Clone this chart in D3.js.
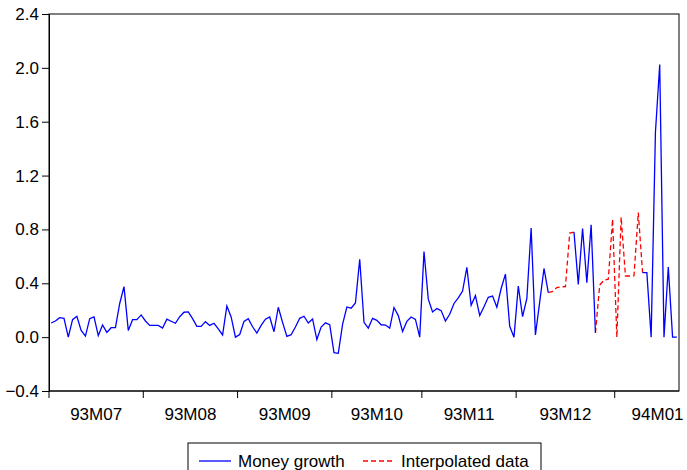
<!DOCTYPE html>
<html>
<head>
<meta charset="utf-8">
<script src="https://cdn.jsdelivr.net/npm/d3@7"></script>
<style>
  body { margin: 0; background: #fff; }
  text { font-family: "Liberation Sans", Arial, sans-serif; fill: #000; }
</style>
</head>
<body>
<script>
/*global d3*/

// month labels and number of daily observations in each month
var months = ["93M07", "93M08", "93M09", "93M10", "93M11", "93M12", "94M01"];
var monthDays = [22, 22, 22, 21, 22, 23, 15];

var yTicks = [-0.4, 0.0, 0.4, 0.8, 1.2, 1.6, 2.0, 2.4];

// daily money growth, null = missing
var moneyGrowth = [
  0.105, 0.12, 0.145, 0.14, 0.0, 0.13, 0.155, 0.05, 0.008, 0.137, 0.15, 0.012, 0.09, 0.035, 0.07, 0.07, 0.25, 0.375, 0.05, 0.13, 0.13, 0.165,
  0.12, 0.087, 0.087, 0.087, 0.067, 0.133, 0.118, 0.103, 0.152, 0.185, 0.187, 0.137, 0.08, 0.08, 0.115, 0.087, 0.103, 0.062, 0.016, 0.231, 0.15, 0.0,
  0.02, 0.117, 0.137, 0.077, 0.03, 0.087, 0.133, 0.15, 0.04, 0.222, 0.11, 0.005, 0.018, 0.075, 0.14, 0.155, 0.105, 0.135, -0.018, 0.075, 0.106, 0.093,
  -0.115, -0.12, 0.095, 0.224, 0.215, 0.254, 0.578, 0.11, 0.067, 0.14, 0.125, 0.092, 0.09, 0.067, 0.22, 0.16, 0.042, 0.117, 0.15, 0.132, 0.0,
  0.636, 0.282, 0.187, 0.212, 0.197, 0.12, 0.17, 0.25, 0.292, 0.342, 0.518, 0.237, 0.308, 0.16, 0.226, 0.296, 0.305, 0.222, 0.361, 0.468, 0.081, 0.0,
  0.38, 0.153, 0.287, 0.81, 0.016, 0.262, 0.51, 0.33, null, null, null, null, null, 0.78, 0.392, 0.807, 0.405, 0.835, 0.032, null, null, null, null,
  null, null, null, null, null, null, 0.479, 0.479, 0.0, 1.52, 2.025, 0.0, 0.52, 0.0, 0.0
];

// interpolated values filling the gaps
var interpolated = [
  null, null, null, null, null, null, null, null, null, null, null, null, null, null, null, null, null, null, null, null, null, null,
  null, null, null, null, null, null, null, null, null, null, null, null, null, null, null, null, null, null, null, null, null, null,
  null, null, null, null, null, null, null, null, null, null, null, null, null, null, null, null, null, null, null, null, null, null,
  null, null, null, null, null, null, null, null, null, null, null, null, null, null, null, null, null, null, null, null, null,
  null, null, null, null, null, null, null, null, null, null, null, null, null, null, null, null, null, null, null, null, null, null,
  null, null, null, null, null, null, null, 0.33, 0.34, 0.368, 0.374, 0.375, 0.773, 0.78, null, null, null, null, 0.032, 0.387, 0.424, 0.43, 0.876,
  0.0, 0.892, 0.454, 0.454, 0.456, 0.925, 0.479, null, null, null, null, null, null, null, null
];

var width = 687, height = 470;
var plotLeft = 49, plotRight = 679, plotTop = 14, plotBottom = 391;
var fontSize = 17;

var svg = d3.select("body").append("svg")
    .attr("width", width)
    .attr("height", height);

var n = moneyGrowth.length;
var x = d3.scaleLinear().domain([-0.5, n - 0.5]).range([plotLeft, plotRight]);
var y = d3.scaleLinear().domain([-0.4, 2.4]).range([plotBottom, plotTop]);

// frame
svg.append("rect")
    .attr("x", plotLeft).attr("y", plotTop)
    .attr("width", plotRight - plotLeft).attr("height", plotBottom - plotTop)
    .attr("fill", "none").attr("stroke", "#000").attr("stroke-width", 1);

// y axis
var yAxis = d3.axisLeft(y).tickValues(yTicks).tickSize(7).tickPadding(3)
    .tickFormat(d3.format(".1f"));
var gy = svg.append("g").attr("transform", "translate(" + plotLeft + ",0)").call(yAxis);
gy.select(".domain").attr("stroke", "#000");
gy.selectAll("text").attr("font-size", fontSize).attr("font-family", "Liberation Sans, Arial, sans-serif");

// x axis: ticks at month boundaries, labels centred in each month
var bounds = [0];
monthDays.forEach(function(d, i) { bounds.push(bounds[i] + d); });
var tickPos = bounds.slice(0, months.length).map(function(b) { return b - 0.5; });

var gx = svg.append("g").attr("transform", "translate(0," + plotBottom + ")");
gx.append("line").attr("x1", plotLeft).attr("x2", plotRight).attr("stroke", "#000");
gx.selectAll(".tk").data(tickPos).enter().append("line")
    .attr("x1", function(d) { return x(d); }).attr("x2", function(d) { return x(d); })
    .attr("y1", 0).attr("y2", 7).attr("stroke", "#000");
gx.selectAll(".lbl").data(months).enter().append("text")
    .attr("x", function(d, i) { return x(bounds[i] - 0.5 + Math.max(monthDays[i], 20) / 2); })
    .attr("y", 29)
    .attr("text-anchor", "middle")
    .attr("font-size", fontSize)
    .text(function(d) { return d; });

// lines
var line = d3.line()
    .defined(function(d) { return d != null; })
    .x(function(d, i) { return x(i); })
    .y(function(d) { return y(d); });

svg.append("path").datum(interpolated)
    .attr("d", line)
    .attr("fill", "none").attr("stroke", "#ff0000").attr("stroke-width", 1.3)
    .attr("stroke-dasharray", "5,3");

svg.append("path").datum(moneyGrowth)
    .attr("d", line)
    .attr("fill", "none").attr("stroke", "#0000ff").attr("stroke-width", 1.3);

// legend
var lg = svg.append("g").attr("transform", "translate(188,443)");
lg.append("rect").attr("x", 0).attr("y", 0).attr("width", 353).attr("height", 40)
    .attr("fill", "#fff").attr("stroke", "#000");
lg.append("line").attr("x1", 11).attr("x2", 43).attr("y1", 18).attr("y2", 18)
    .attr("stroke", "#0000ff").attr("stroke-width", 1.3);
lg.append("text").attr("x", 50).attr("y", 24).attr("font-size", fontSize).text("Money growth");
lg.append("line").attr("x1", 175).attr("x2", 207).attr("y1", 18).attr("y2", 18)
    .attr("stroke", "#ff0000").attr("stroke-width", 1.3).attr("stroke-dasharray", "5,3");
lg.append("text").attr("x", 213).attr("y", 24).attr("font-size", fontSize).text("Interpolated data");
</script>
</body>
</html>
